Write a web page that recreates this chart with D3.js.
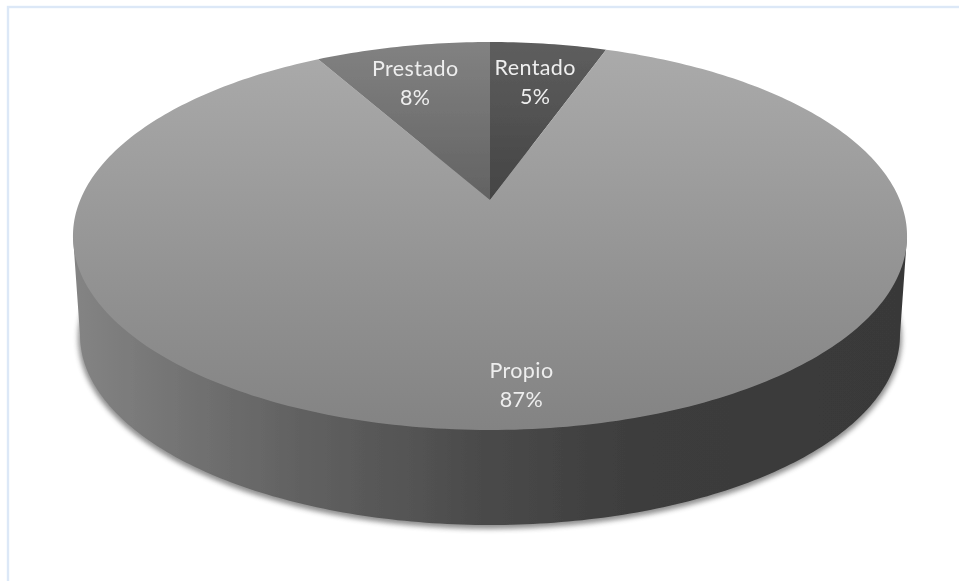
<!DOCTYPE html>
<html><head><meta charset="utf-8">
<script src="https://cdn.jsdelivr.net/npm/d3@7/dist/d3.min.js"></script>
<style>html,body{margin:0;padding:0;background:#fff;overflow:hidden}svg{display:block}</style>
</head><body><svg id="c" width="959" height="581"></svg>
<script>
// Data, clockwise from 12 o'clock
const categories = ["Rentado", "Propio", "Prestado"];
const values = [5.4, 86.5, 8.1];
const percentLabels = ["5%", "87%", "8%"];

// Layout
const W = 959, H = 581;
const apex = {x: 490, y: 200};
const A = 409.8, B = 187.3, K = 0.1856;           // perspective of the top face
const topEllipse = {cx: 490, cy: 236, rx: 417, ry: 194};
const baseEllipse = {cx: 490, cy: 335, rx: 410, ry: 190};
const labelRadius = [0.7235, 0.838, 0.72];
const labelNudge = [[1, 0], [-3, 0], [-9, -1]];
const lineGap = 14.5;

const svg = d3.select("#c");
const defs = svg.append("defs");

function gradient(id, x1, y1, x2, y2, stops) {
  const g = defs.append("linearGradient").attr("id", id)
    .attr("gradientUnits", "userSpaceOnUse")
    .attr("x1", x1).attr("y1", y1).attr("x2", x2).attr("y2", y2);
  stops.forEach(s => g.append("stop").attr("offset", s[0]).attr("stop-color", s[1]));
}
gradient("g0", 0, 48, 0, 200, [[0, "#5d5d5d"], [1, "#444444"]]);
gradient("g1", 0, 42, 0, 430, [[0, "#ababab"], [1, "#838383"]]);
gradient("g2", 0, 42, 0, 200, [[0, "#828282"], [1, "#626262"]]);
gradient("wall", 80, 0, 900, 0, [
  [0, "#838383"], [0.146, "#707070"], [0.268, "#616161"], [0.39, "#555555"],
  [0.5, "#494949"], [0.695, "#3c3c3c"], [1, "#393939"]]);
defs.append("filter").attr("id", "blur")
  .attr("x", "-5%").attr("y", "-5%").attr("width", "110%").attr("height", "110%")
  .append("feGaussianBlur").attr("stdDeviation", 2.6);
defs.append("filter").attr("id", "soft")
  .attr("x", "-5%").attr("y", "-20%").attr("width", "110%").attr("height", "140%")
  .append("feGaussianBlur").attr("stdDeviation", 0.4);

// Frame
svg.append("rect").attr("x", 8).attr("y", 7).attr("width", 1000).attr("height", 700)
  .attr("fill", "#fff").attr("stroke", "#dce8f7").attr("stroke-width", 2.4);

// True pie angle -> screen position, through a perspective projection
const scaleU = d3.scaleLinear().domain([0, 1]).range([apex.x, apex.x + A]);
const scaleV = d3.scaleLinear().domain([0, 1]).range([apex.y, apex.y - B]);
function project(angle, f) {
  const X = f * Math.sin(angle), Y = f * Math.cos(angle), w = 1 + K * Y;
  return [scaleU(X / w), scaleV(Y / w)];
}
const line = d3.line();

const arcs = d3.pie().sort(null).value(d => d)(values);

// Soft shadow under the base
svg.append("ellipse")
  .attr("cx", baseEllipse.cx).attr("cy", baseEllipse.cy + 3)
  .attr("rx", baseEllipse.rx + 2).attr("ry", baseEllipse.ry + 1)
  .attr("fill", "#555").attr("opacity", 0.65).attr("filter", "url(#blur)");

const pie3d = svg.append("g").attr("filter", "url(#soft)");

// Side wall
const wallPts = [[topEllipse.cx - topEllipse.rx, topEllipse.cy]];
d3.range(0, 181, 1).forEach(d => {
  const t = Math.PI - d * Math.PI / 180;
  wallPts.push([baseEllipse.cx + baseEllipse.rx * Math.cos(t), baseEllipse.cy + baseEllipse.ry * Math.sin(t)]);
});
wallPts.push([topEllipse.cx + topEllipse.rx, topEllipse.cy]);
pie3d.append("path").attr("d", line(wallPts) + "Z").attr("fill", "url(#wall)");

// Top face slices
pie3d.selectAll("path.slice").data(arcs).join("path").attr("class", "slice")
  .attr("d", d => {
    const n = Math.ceil((d.endAngle - d.startAngle) * 180 / Math.PI);
    const rim = d3.range(n + 1).map(i => project(d.startAngle + (d.endAngle - d.startAngle) * i / n, 1));
    return line([[apex.x, apex.y], ...rim]) + "Z";
  })
  .attr("fill", (d, i) => `url(#g${i})`);

// Labels
const labels = svg.selectAll("g.lab").data(arcs).join("g").attr("class", "lab")
  .attr("transform", (d, i) => {
    const p = project((d.startAngle + d.endAngle) / 2, labelRadius[i]);
    return `translate(${p[0] + labelNudge[i][0]},${p[1] + labelNudge[i][1]})`;
  })
  .attr("font-family", "Lato, 'Open Sans', sans-serif")
  .attr("font-size", 21.5).attr("letter-spacing", 0.4)
  .attr("fill", "#eeeeee").attr("text-anchor", "middle")
  .attr("filter", "url(#soft)");
labels.append("text").attr("y", -lineGap + 7).text((d, i) => categories[i]);
labels.append("text").attr("y", lineGap + 7).text((d, i) => percentLabels[i]);
</script></body></html>
